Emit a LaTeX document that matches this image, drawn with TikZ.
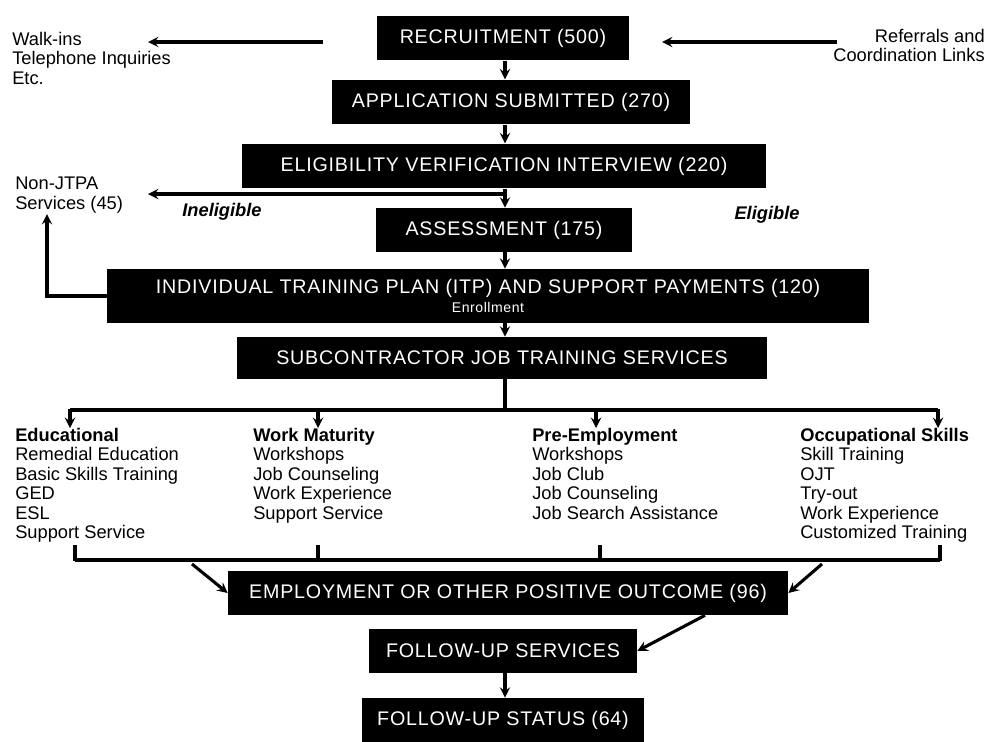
\documentclass[tikz,border=0pt]{standalone}
\usepackage{fontspec}
\setmainfont{Liberation Sans}
\usepackage{tikz}
\usetikzlibrary{positioning}
\usetikzlibrary{calc}

\tikzset{
  stage/.style={fill=black, text=white, font=\fontsize{14}{16}\selectfont\addfontfeature{LetterSpace=4}, minimum height=1.12cm, inner sep=2pt, align=center},
  lab/.style={font=\fontsize{13}{13.8}\selectfont, inner sep=0pt},
  flow/.style={line width=2.2pt, ->, >=stealth},
  bar/.style={line width=2.2pt}
}

\begin{document}
\begin{tikzpicture}[x=0.025cm, y=-0.025cm]
\useasboundingbox (0,0) rectangle (992,742);
\coordinate (axis) at (505,0);
\node[stage, minimum width=6.3cm] (rec) at (503,38) {RECRUITMENT (500)};
\node[stage, minimum width=8.93cm] (app) at (511,102) {APPLICATION SUBMITTED (270)};
\node[stage, minimum width=13.1cm] (elig) at (504,166) {ELIGIBILITY VERIFICATION INTERVIEW (220)};
\node[stage, minimum width=6.38cm, minimum height=1.1cm] (assess) at (504,230) {ASSESSMENT (175)};
\node[stage, minimum width=19.05cm, minimum height=1.35cm] (itp) at (488,296) {INDIVIDUAL TRAINING PLAN (ITP) AND SUPPORT PAYMENTS (120)\\[-2pt]{\fontsize{10}{11}\selectfont Enrollment}};
\node[stage, minimum width=13.25cm, minimum height=1.05cm] (sub) at (502,358) {SUBCONTRACTOR JOB TRAINING SERVICES};
\node[stage, minimum width=14cm, minimum height=1.1cm] (emp) at (508,593) {EMPLOYMENT OR OTHER POSITIVE OUTCOME (96)};
\node[stage, minimum width=6.7cm, minimum height=1.1cm] (fus) at (503,651) {FOLLOW-UP SERVICES};
\node[stage, minimum width=7.05cm, minimum height=1.1cm] (fst) at (503,720) {FOLLOW-UP STATUS (64)};

\node[lab, align=left, anchor=north west] (walkin) at (12,32) {Walk-ins\\Telephone Inquiries\\Etc.};
\node[lab, align=right, anchor=north east] (refer) at (985,29) {Referrals and\\Coordination Links};
\node[lab, align=left, anchor=north west] (njtpa) at (15,177) {Non-JTPA\\Services (45)};
\node[lab, font=\bfseries\itshape\fontsize{13}{15}\selectfont] (inelig) at (222,212) {Ineligible};
\node[lab, font=\bfseries\itshape\fontsize{13}{15}\selectfont] (eligible) at (767,215) {Eligible};

\node[lab, align=left, anchor=north west] (edu) at (15,428) {\textbf{Educational}\\Remedial Education\\Basic Skills Training\\GED\\ESL\\Support Service};
\node[lab, align=left, anchor=north west] (work) at (253,428) {\textbf{Work Maturity}\\Workshops\\Job Counseling\\Work Experience\\Support Service};
\node[lab, align=left, anchor=north west] (pre) at (532,428) {\textbf{Pre-Employment}\\Workshops\\Job Club\\Job Counseling\\Job Search Assistance};
\node[lab, align=left, anchor=north west] (occ) at (800,428) {\textbf{Occupational Skills}\\Skill Training\\OJT\\Try-out\\Work Experience\\Customized Training};

\foreach \a/\b in {rec/app, app/elig, elig/assess, assess/itp, itp/sub, fus/fst}
  \draw[flow] (\a.south -| axis) -- (\b.north -| axis);

\coordinate (wfrom) at (323,42);
\coordinate (wto) at (148,42);
\coordinate (rfrom) at (837,42);
\coordinate (rto) at (662,42);
\draw[flow] (wfrom) -- (wto);
\draw[flow] (rfrom) -- (rto);

\coordinate (fork) at (505,194);
\coordinate (njin) at (148,194);
\coordinate (njup) at (47,214);
\draw[flow] (fork) -- (njin);
\draw[flow] (itp.west) -| (njup);

\coordinate (split) at (505,410);
\draw[bar] (sub.south -| axis) -- (split);
\draw[bar] (70,410) -- (938,410);
\foreach \x/\c in {70/edu, 318/work, 596/pre, 938/occ}
  \draw[flow] (\x,409) -- (\x,428);

\draw[bar] (75,560) -- (940,560);
\foreach \x in {75, 318, 600, 940}
  \draw[bar] (\x,545) -- (\x,561);

\coordinate (lin) at (192,564);
\coordinate (rin) at (822,564);
\coordinate (eout) at (705,0);
\draw[flow] (lin) -- (emp.west);
\draw[flow] (rin) -- (emp.east);
\draw[flow] (emp.south -| eout) -- (fus.east);
\end{tikzpicture}
\end{document}
